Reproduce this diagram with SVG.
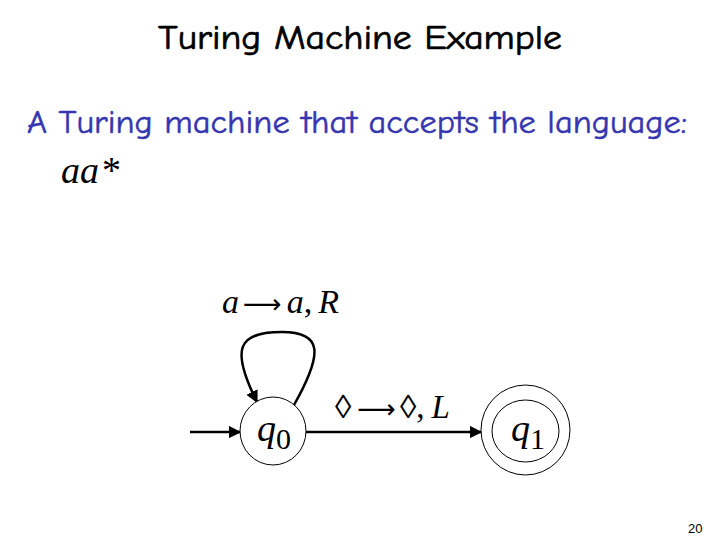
<svg xmlns="http://www.w3.org/2000/svg" width="720" height="540" viewBox="0 0 720 540">
<defs>
<style>
.title{font-family:"Comic Neue","Liberation Sans",sans-serif;font-size:34px;fill:#000;stroke:#000;stroke-width:0.7}
.sub{font-family:"Comic Neue","Liberation Sans",sans-serif;font-size:32px;fill:#3535b0;stroke:#3535b0;stroke-width:0.5}
.m{font-family:"Liberation Serif","Times New Roman",serif;fill:#000}
.it{font-style:italic}
.ar{font-family:"DejaVu Sans",sans-serif;font-size:27px}
.st{fill:#fff;stroke:#000;stroke-width:1}
.edge{fill:none;stroke:#000;stroke-width:2.5}
</style>
<marker id="ah" viewBox="0 0 10 10" refX="9" refY="5" markerWidth="5" markerHeight="5" orient="auto" markerUnits="strokeWidth">
<path d="M0,0 L10,5 L0,10 z" fill="#000"/>
</marker>
</defs>
<rect width="720" height="540" fill="#fff"/>
<text class="title" x="158" y="49" textLength="404" lengthAdjust="spacingAndGlyphs">Turing Machine Example</text>
<text class="sub" x="27" y="133" textLength="660" lengthAdjust="spacingAndGlyphs">A Turing machine that accepts the language:</text>
<text class="m" x="61" y="183" font-size="38"><tspan class="it">aa</tspan><tspan dx="3">*</tspan></text>
<g id="connectors">
<line class="edge" x1="190" y1="432" x2="240" y2="432" marker-end="url(#ah)"/>
<line class="edge" x1="306" y1="432" x2="481" y2="432" marker-end="url(#ah)"/>
<path class="edge" d="M294 405 C324 352 322 332 282 332 C238 332 230 348 257 402" marker-end="url(#ah)"/>
<text class="m" x="222" y="313" font-size="34"><tspan class="it">a</tspan><tspan class="ar" dx="4">⟶</tspan><tspan class="it" dx="5">a</tspan><tspan>,</tspan><tspan class="it" dx="6">R</tspan></text>
<text class="m" x="335" y="418" font-size="33"><tspan>◊</tspan><tspan class="ar" dx="6">⟶</tspan><tspan dx="4">◊</tspan><tspan>,</tspan><tspan class="it" dx="7">L</tspan></text>
</g>
<g id="q0">
<ellipse class="st" cx="273" cy="431" rx="33" ry="34"/>
<text class="m" x="257" y="441" font-size="38"><tspan class="it">q</tspan><tspan font-size="30" dy="8">0</tspan></text>
</g>
<g id="q1">
<ellipse class="st" cx="525.5" cy="430" rx="44.5" ry="45"/>
<ellipse class="st" cx="525.5" cy="431" rx="33.5" ry="31"/>
<text class="m" x="511" y="441" font-size="38"><tspan class="it">q</tspan><tspan font-size="30" dy="8">1</tspan></text>
</g>
<text x="688" y="533" font-family="Liberation Sans,sans-serif" font-size="13" fill="#000">20</text>
</svg>
